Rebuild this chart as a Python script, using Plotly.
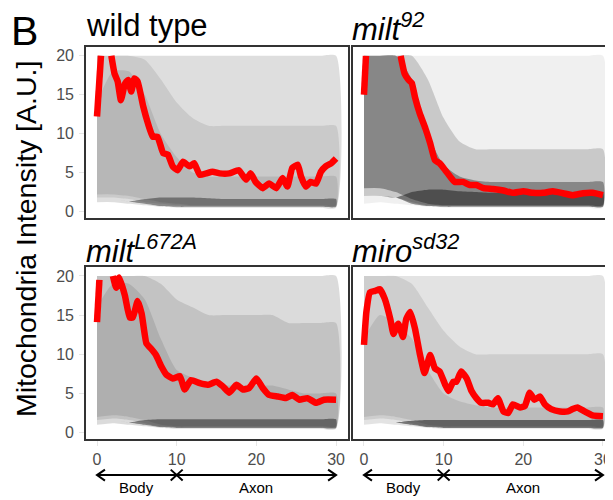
import plotly.graph_objects as go

# ---------------- data ----------------
panel_titles = ["wild type", "<i>milt<sup>92</sup></i>", "<i>milt<sup>L672A</sup></i>", "<i>miro<sup>sd32</sup></i>"]
x_ticks = [0, 10, 20, 30]
y_ticks = [0, 5, 10, 15, 20]
region_labels = ["Body", "Axon"]

# mean traces (red); None where the mean exceeds the 0-20 scale
wt_x = [0, 0.5, 1.0, 1.8, 2.2, 2.6, 3.0, 3.5, 3.9, 4.3, 4.7, 5.1, 5.8, 6.4, 7.0, 7.6, 8.3, 8.9, 9.5, 10.1,
        10.8, 11.6, 12.2, 12.9, 13.7, 14.5, 15.4, 16.6, 17.8, 18.7, 19.3, 19.9, 20.8, 21.6, 22.5, 23.3,
        23.9, 24.5, 25.2, 25.6, 26.2, 26.8, 27.5, 28.1, 28.7, 29.4, 30.0]
wt_y = [12.2, 20, None, 20, 17.7, 16.7, 14.3, 16.4, 16.9, 15.4, 17.1, 16.7, 13.5, 11.3, 9.6, 9.6, 7.5, 7.3, 5.8, 5.3,
        6.4, 5.8, 6.2, 4.7, 4.9, 5.1, 4.9, 4.9, 5.3, 4.1, 4.9, 3.8, 3.0, 3.6, 3.0, 4.3,
        3.2, 5.6, 6.0, 4.5, 3.2, 3.8, 3.6, 5.1, 5.8, 6.2, 6.8]

m92_x = [0, 0.25, 2.0, 4.6, 5.1, 5.6, 6.0, 6.4, 7.0, 7.7, 8.3, 8.9, 9.5, 10.2, 10.8, 11.4, 12.4, 13.3, 14.1,
         15.0, 16.2, 17.5, 18.7, 20.0, 21.2, 22.5, 23.7, 25.0, 26.2, 27.5, 28.7, 30.0]
m92_y = [15.0, 20, None, 20, 17.7, 16.9, 16.5, 14.7, 12.6, 10.7, 8.8, 6.6, 6.2, 5.3, 4.5, 3.8, 3.8, 3.4, 3.4,
         3.0, 2.9, 2.7, 2.4, 2.6, 2.4, 2.4, 2.6, 2.35, 2.1, 2.35, 2.4, 2.1]

ml_x = [0, 0.3, 1.0, 2.0, 2.4, 2.8, 3.5, 4.1, 4.5, 5.1, 5.6, 6.2, 6.8, 7.4, 8.1, 8.7, 9.5, 10.4, 11.0, 11.8,
        12.9, 13.9, 15.0, 15.8, 16.6, 17.5, 18.3, 19.1, 20.0, 20.8, 21.6, 22.7, 23.7, 24.5, 25.4, 26.4,
        27.5, 28.5, 30.0]
ml_y = [14.1, 19.5, None, 20, 18.5, 19.8, 17.5, 14.7, 14.7, 16.8, 15.2, 11.4, 10.7, 9.9, 8.4, 7.4, 6.9, 7.2, 5.5, 6.7,
        6.3, 6.1, 6.5, 5.9, 5.1, 6.1, 5.5, 5.7, 6.9, 5.7, 4.8, 4.6, 4.4, 4.8, 4.2, 4.4,
        3.8, 4.2, 4.2]

mi_x = [0, 0.3, 0.75, 1.4, 2.0, 2.6, 3.3, 3.7, 4.3, 4.9, 5.3, 5.8, 6.4, 7.0, 7.6, 8.3, 8.9, 9.5, 10.2, 10.6,
        11.2, 11.6, 12.2, 12.9, 13.5, 14.1, 14.7, 15.6, 16.2, 16.8, 17.5, 18.1, 18.7, 19.6, 20.2, 20.8,
        21.4, 22.1, 22.7, 23.5, 24.6, 25.6, 26.2, 26.8, 27.7, 28.7, 30.0]
mi_y = [11.2, 15.4, 17.9, 18.1, 18.3, 17.1, 14.5, 12.6, 13.9, 12.2, 14.5, 15.4, 13.3, 10.1, 7.6, 9.9, 8.2, 7.8, 6.1, 5.3,
        6.5, 6.5, 7.8, 6.9, 5.3, 4.4, 3.8, 3.8, 3.6, 4.4, 2.7, 2.5, 3.6, 3.2, 3.4, 5.1,
        4.2, 4.6, 3.6, 3.0, 2.7, 2.7, 3.0, 3.2, 2.7, 2.2, 2.1]

# spread of the individual traces, estimated as nested envelopes (lo, hi) on this grid
band_x = [0, 2, 4, 6, 8, 10, 12, 14, 16, 18, 20, 22, 24, 26, 28, 30]

wt_all_lo = [1.2, 1.2, 1.0, 0.8, 0.6, 0.5, 0.5, 0.5, 0.5, 0.5, 0.5, 0.5, 0.5, 0.5, 0.5, 0.5]
wt_all_hi = [20, 20, 20, 20, 20, 20, 20, 20, 20, 20, 20, 20, 20, 20, 20, 20]
wt_mid_lo = [1.8, 1.8, 1.6, 1.2, 1.0, 0.8, 0.7, 0.7, 0.7, 0.7, 0.7, 0.7, 0.7, 0.7, 0.7, 0.7]
wt_mid_hi = [20, 20, 20, 19.5, 17, 14, 12, 11, 11, 11, 11, 11, 11, 11, 11, 11]
wt_core_lo = [2.2, 2.2, 2.0, 1.6, 1.2, 1.0, 0.8, 0.8, 0.8, 0.8, 0.8, 0.8, 0.8, 0.8, 0.8, 0.8]
wt_core_hi = [14, 18, 18, 15, 10, 7, 5, 4.5, 4.5, 4.5, 4.5, 4.5, 4.5, 4.5, 4.5, 4.5]
wt_base_lo = [1.5, 1.5, 1.3, 1.0, 0.7, 0.6, 0.6, 0.6, 0.6, 0.6, 0.6, 0.6, 0.6, 0.6, 0.6, 0.6]
wt_base_hi = [1.5, 1.5, 1.3, 1.6, 1.8, 1.8, 1.8, 1.7, 1.6, 1.6, 1.6, 1.6, 1.6, 1.6, 1.6, 1.6]

m92_all_lo = [1.0, 1.2, 1.0, 0.8, 0.6, 0.5, 0.5, 0.5, 0.5, 0.5, 0.5, 0.5, 0.5, 0.5, 0.5, 0.5]
m92_all_hi = [20, 20, 20, 20, 20, 20, 20, 20, 20, 20, 20, 20, 20, 20, 20, 20]
m92_mid_lo = [2.0, 2.0, 1.8, 1.2, 0.8, 0.7, 0.7, 0.7, 0.7, 0.7, 0.7, 0.7, 0.7, 0.7, 0.7, 0.7]
m92_mid_hi = [20, 20, 20, 20, 17, 12, 9, 8, 8, 8, 8, 8, 8, 8, 8, 8]
m92_core_lo = [3.0, 3.0, 2.5, 1.6, 1.0, 0.8, 0.8, 0.8, 0.8, 0.8, 0.8, 0.8, 0.8, 0.8, 0.8, 0.8]
m92_core_hi = [20, 20, 20, 17, 10, 6, 4.5, 4.0, 3.8, 3.8, 3.8, 3.8, 3.8, 3.8, 3.8, 3.8]
m92_base_lo = [2.0, 2.0, 1.8, 1.0, 0.7, 0.6, 0.6, 0.6, 0.6, 0.6, 0.6, 0.6, 0.6, 0.6, 0.6, 0.6]
m92_base_hi = [2.0, 2.0, 1.8, 2.5, 2.8, 2.8, 2.6, 2.5, 2.4, 2.4, 2.4, 2.4, 2.4, 2.4, 2.4, 2.4]

ml_all_lo = [1.0, 1.2, 1.0, 0.8, 0.6, 0.5, 0.5, 0.5, 0.5, 0.5, 0.5, 0.5, 0.5, 0.5, 0.5, 0.5]
ml_all_hi = [20, 20, 20, 20, 20, 20, 20, 20, 20, 20, 20, 20, 20, 20, 20, 20]
ml_mid_lo = [1.6, 1.8, 1.6, 1.2, 0.8, 0.7, 0.7, 0.7, 0.7, 0.7, 0.7, 0.7, 0.7, 0.7, 0.7, 0.7]
ml_mid_hi = [20, 20, 20, 20, 19, 17, 16, 15, 15, 15, 15, 15, 14, 14, 14, 14]
ml_core_lo = [2.0, 2.2, 2.0, 1.6, 1.0, 0.8, 0.8, 0.8, 0.8, 0.8, 0.8, 0.8, 0.8, 0.8, 0.8, 0.8]
ml_core_hi = [16, 19, 19, 17, 12, 8, 7, 6, 6, 6, 6, 6, 5.5, 5, 5, 5]
ml_base_lo = [1.5, 1.5, 1.3, 1.0, 0.7, 0.6, 0.6, 0.6, 0.6, 0.6, 0.6, 0.6, 0.6, 0.6, 0.6, 0.6]
ml_base_hi = [1.5, 1.5, 1.3, 1.6, 1.7, 1.7, 1.7, 1.7, 1.7, 1.7, 1.7, 1.7, 1.7, 1.7, 1.7, 1.7]

mi_all_lo = [1.0, 1.2, 1.0, 0.8, 0.6, 0.5, 0.5, 0.5, 0.5, 0.5, 0.5, 0.5, 0.5, 0.5, 0.5, 0.5]
mi_all_hi = [20, 20, 20, 20, 20, 20, 20, 20, 20, 20, 20, 20, 20, 20, 20, 20]
mi_mid_lo = [1.6, 1.8, 1.6, 1.2, 0.8, 0.7, 0.7, 0.7, 0.7, 0.7, 0.7, 0.7, 0.7, 0.7, 0.7, 0.7]
mi_mid_hi = [20, 20, 20, 19, 16, 13, 11, 10, 10, 10, 10, 10, 10, 10, 10, 10]
mi_core_lo = [2.0, 2.2, 2.0, 1.6, 1.0, 0.8, 0.8, 0.8, 0.8, 0.8, 0.8, 0.8, 0.8, 0.8, 0.8, 0.8]
mi_core_hi = [12, 15, 14, 12, 8, 5, 4, 3.5, 3.2, 3.2, 3.2, 3.2, 3.2, 3.2, 3.2, 3.2]
mi_base_lo = [1.5, 1.5, 1.3, 1.0, 0.7, 0.6, 0.6, 0.6, 0.6, 0.6, 0.6, 0.6, 0.6, 0.6, 0.6, 0.6]
mi_base_hi = [1.5, 1.5, 1.3, 1.5, 1.6, 1.6, 1.6, 1.6, 1.6, 1.6, 1.6, 1.6, 1.6, 1.6, 1.6, 1.6]

# ---------------- figure ----------------
# the page body has an 8px margin, so the figure is placed at (8, 8) in the window
OFF = 8
W, H = 613 - OFF, 500 - OFF
FONT = "Liberation Sans, Arial, sans-serif"


def xp(px):
    return (px - OFF) / W


def yp(py):
    return 1 - (py - OFF) / H


panels = [
    dict(mean=(wt_x, wt_y), bands=[(wt_all_lo, wt_all_hi), (wt_mid_lo, wt_mid_hi), (wt_core_lo, wt_core_hi), (wt_base_lo, wt_base_hi)]),
    dict(mean=(m92_x, m92_y), bands=[(m92_all_lo, m92_all_hi), (m92_mid_lo, m92_mid_hi), (m92_core_lo, m92_core_hi), (m92_base_lo, m92_base_hi)]),
    dict(mean=(ml_x, ml_y), bands=[(ml_all_lo, ml_all_hi), (ml_mid_lo, ml_mid_hi), (ml_core_lo, ml_core_hi), (ml_base_lo, ml_base_hi)]),
    dict(mean=(mi_x, mi_y), bands=[(mi_all_lo, mi_all_hi), (mi_mid_lo, mi_mid_hi), (mi_core_lo, mi_core_hi), (mi_base_lo, mi_base_hi)]),
]
band_alpha = [
    [0.13, 0.09, 0.09, 0.38],
    [0.06, 0.16, 0.33, 0.42],
    [0.14, 0.11, 0.10, 0.42],
    [0.11, 0.09, 0.09, 0.48],
]

# pixel geometry of the panels in the window (left, right, top, bottom)
px_boxes = [(86, 348, 47, 219), (353, 613, 47, 219), (86, 348, 268, 441), (353, 613, 268, 441)]
x_ranges = [[-1.38, 31.5], [-1.38, 31.26], [-1.38, 31.5], [-1.38, 31.26]]
y_range = [-0.85, 21.15]

fig = go.Figure()
for i, p in enumerate(panels):
    ax = "" if i == 0 else str(i + 1)
    for (lo, hi), a in zip(p["bands"], band_alpha[i]):
        fig.add_trace(go.Scatter(
            x=band_x + band_x[::-1], y=hi + lo[::-1], fill="toself",
            fillcolor=f"rgba(0,0,0,{a})", line=dict(width=0, shape="spline", smoothing=0.6),
            mode="lines", hoverinfo="skip", showlegend=False, xaxis="x" + ax, yaxis="y" + ax))
    mx, my = p["mean"]
    fig.add_trace(go.Scatter(
        x=mx, y=my, mode="lines", line=dict(color="#ff0000", width=6.5, shape="spline", smoothing=0.4),
        connectgaps=False, showlegend=False, xaxis="x" + ax, yaxis="y" + ax))

layout = dict(width=W, height=H, margin=dict(l=0, r=0, t=0, b=0),
              plot_bgcolor="white", paper_bgcolor="white",
              font=dict(family=FONT, color="black"))
for i, (l, r, t, b) in enumerate(px_boxes):
    ax = "" if i == 0 else str(i + 1)
    bottom_row = i >= 2
    left_col = i % 2 == 0
    layout["xaxis" + ax] = dict(
        domain=[xp(l), min(xp(r), 1.0)], range=x_ranges[i], anchor="y" + ax,
        tickvals=x_ticks, showticklabels=bottom_row, ticks="outside" if bottom_row else "",
        ticklen=5, tickcolor="#e6e6e6", tickfont=dict(size=16, color="#4d4d4d"),
        showgrid=False, zeroline=False, showline=True, linecolor="#333333", linewidth=1.6, mirror=True)
    layout["yaxis" + ax] = dict(
        domain=[yp(b), yp(t)], range=y_range, anchor="x" + ax,
        tickvals=y_ticks, showticklabels=left_col, ticks="outside" if left_col else "",
        ticklen=5, tickcolor="#e6e6e6", tickfont=dict(size=16, color="#4d4d4d"),
        ticklabelstandoff=2,
        showgrid=False, zeroline=False, showline=True, linecolor="#333333", linewidth=1.6,
        mirror=left_col)

annotations = []
title_pos = [(84, 26), (350, 27), (84, 250), (350, 250)]
for (tx, ty), txt in zip(title_pos, panel_titles):
    annotations.append(dict(x=xp(tx), y=yp(ty), xref="paper", yref="paper", text=txt,
                            showarrow=False, xanchor="left", yanchor="middle",
                            font=dict(size=31, color="black")))
annotations.append(dict(x=xp(24), y=yp(31), xref="paper", yref="paper", text="B",
                        showarrow=False, xanchor="center", yanchor="middle",
                        font=dict(size=41, color="black")))
annotations.append(dict(x=xp(26), y=yp(240), xref="paper", yref="paper",
                        text="Mitochondria Intensity [A.U.]", textangle=-90,
                        showarrow=False, xanchor="center", yanchor="middle",
                        font=dict(size=28.5, color="black")))

shapes = []
arrow_y = yp(477)
dy = 5.5 / H
for xr in ["x3", "x4"]:
    shapes.append(dict(type="line", xref=xr, yref="paper", x0=0, x1=30, y0=arrow_y, y1=arrow_y,
                       line=dict(color="black", width=2)))
    shapes.append(dict(type="path", xref=xr, yref="paper",
                       path=f"M 1.0,{arrow_y + dy} L 0,{arrow_y} L 1.0,{arrow_y - dy}",
                       line=dict(color="black", width=2)))
    shapes.append(dict(type="path", xref=xr, yref="paper",
                       path=f"M 29.0,{arrow_y + dy} L 30,{arrow_y} L 29.0,{arrow_y - dy}",
                       line=dict(color="black", width=2)))
    shapes.append(dict(type="path", xref=xr, yref="paper",
                       path=f"M 9.25,{arrow_y + dy} L 10.75,{arrow_y - dy} M 9.25,{arrow_y - dy} L 10.75,{arrow_y + dy}",
                       line=dict(color="black", width=2)))
    annotations.append(dict(x=5, y=yp(489), xref=xr, yref="paper", text=region_labels[0],
                            showarrow=False, xanchor="center", yanchor="middle", font=dict(size=15)))
    annotations.append(dict(x=20, y=yp(489), xref=xr, yref="paper", text=region_labels[1],
                            showarrow=False, xanchor="center", yanchor="middle", font=dict(size=15)))

layout["annotations"] = annotations
layout["shapes"] = shapes
fig.update_layout(**layout)
fig.write_html("out.html")
